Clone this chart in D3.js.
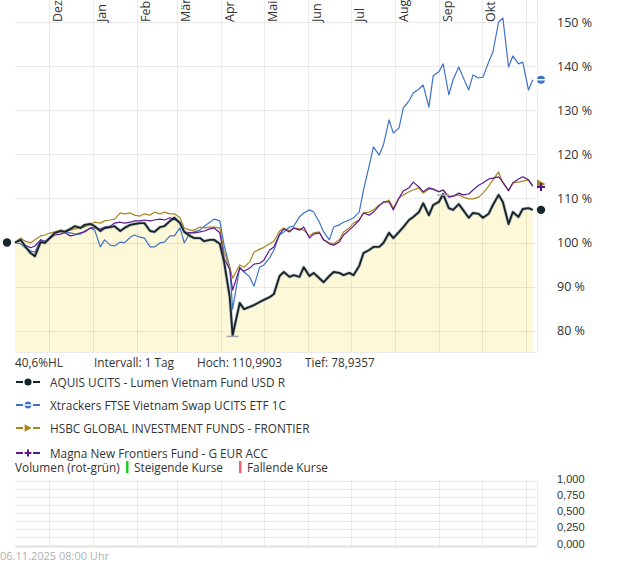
<!DOCTYPE html>
<html>
  <head>
    <meta charset="utf-8">
    <title></title>
    <style>
      body { margin: 0; background: #fff; }
      text { font-family: "Open Sans", "Noto Sans", sans-serif; fill: #333; }
    </style>
  </head>
  <body>
    <svg id="chart" width="620" height="563"></svg>
    <script src="https://d3js.org/d3.v7.min.js"></script>
    <script>
      dates = ['2024-11-07','2024-11-11','2024-11-14','2024-11-18','2024-11-21','2024-11-25','2024-11-28',
        '2024-12-02','2024-12-05','2024-12-09','2024-12-12','2024-12-16','2024-12-19','2024-12-23','2024-12-26','2024-12-30',
        '2025-01-02','2025-01-06','2025-01-09','2025-01-13','2025-01-16','2025-01-20','2025-01-23','2025-01-27','2025-01-30',
        '2025-02-03','2025-02-06','2025-02-10','2025-02-13','2025-02-17','2025-02-20','2025-02-24','2025-02-27',
        '2025-03-03','2025-03-06','2025-03-10','2025-03-13','2025-03-17','2025-03-20','2025-03-24','2025-03-27','2025-03-31',
        '2025-04-03','2025-04-07','2025-04-09','2025-04-14','2025-04-17','2025-04-21','2025-04-24','2025-04-28',
        '2025-05-01','2025-05-05','2025-05-08','2025-05-12','2025-05-15','2025-05-19','2025-05-22','2025-05-26','2025-05-29',
        '2025-06-02','2025-06-05','2025-06-09','2025-06-12','2025-06-16','2025-06-19','2025-06-23','2025-06-26','2025-06-30',
        '2025-07-03','2025-07-07','2025-07-10','2025-07-14','2025-07-17','2025-07-21','2025-07-24','2025-07-28','2025-07-31',
        '2025-08-04','2025-08-07','2025-08-11','2025-08-14','2025-08-18','2025-08-21','2025-08-25','2025-08-28',
        '2025-09-01','2025-09-04','2025-09-08','2025-09-11','2025-09-15','2025-09-18','2025-09-22','2025-09-25','2025-09-29',
        '2025-10-02','2025-10-06','2025-10-09','2025-10-13','2025-10-16','2025-10-20','2025-10-23','2025-10-27','2025-10-30',
        '2025-11-03','2025-11-06']

      aquis = [100.0,100.6,99.2,97.6,96.9,100.1,99.9,101.2,102.2,102.6,
        102.4,103.1,103.7,103.3,104.0,104.2,103.7,102.6,103.3,103.5,
        103.7,102.6,103.3,104.0,104.2,104.4,104.4,102.6,102.4,103.5,
        103.7,104.9,105.6,104.4,102.4,101.5,101.0,101.0,100.3,100.6,
        100.6,99.7,95.6,87.6,78.9357,86.3,84.9,85.4,85.8,86.5,
        87.0,87.6,88.3,92.4,93.3,92.2,92.6,92.2,94.4,92.4,
        93.1,91.9,91.0,92.4,93.3,93.1,92.6,93.1,92.6,94.7,
        97.6,98.3,99.0,99.0,99.9,102.2,101.0,102.4,103.5,105.1,
        105.8,106.9,108.9,106.2,108.5,109.2,110.9903,107.8,107.4,108.7,
        107.4,105.6,106.7,106.5,105.6,106.5,108.5,110.8,109.2,104.2,
        106.9,105.8,107.6,107.8,107.4]

      xtrackers = [100.0,99.7,98.8,98.1,97.8,100.6,100.3,101.2,102.2,102.8,
        102.4,102.2,101.9,101.9,102.6,103.3,102.8,99.0,100.6,99.4,
        99.2,100.1,99.9,101.2,101.7,101.2,101.0,99.0,99.0,99.9,
        100.1,101.5,101.5,103.3,99.9,102.2,102.4,102.8,103.7,104.6,
        105.3,104.9,99.4,94.4,84.9,94.4,93.3,92.2,90.1,94.4,
        94.9,96.5,98.3,101.7,102.4,103.5,103.7,105.8,106.7,107.4,
        106.9,104.6,102.4,100.6,103.5,104.0,104.6,105.1,105.6,106.9,
        111.9,117.4,121.7,119.8,122.1,127.8,124.8,126.0,130.5,132.1,
        133.9,134.8,135.7,130.7,137.8,138.7,140.5,133.5,136.9,139.8,
        137.5,134.6,138.0,137.3,137.5,140.9,143.2,150.0,150.9,139.8,
        142.3,140.5,140.9,134.6,136.9]

      hsbc = [100.0,101.0,100.3,99.9,100.6,101.5,101.7,102.2,102.4,102.8,
        102.6,102.8,103.1,103.3,103.5,104.2,104.6,104.4,104.9,105.1,
        105.3,106.7,106.5,106.7,106.2,106.0,106.5,106.2,106.9,106.5,
        106.9,106.5,106.5,105.6,103.3,102.8,102.8,103.5,103.3,103.5,
        103.5,103.3,97.8,94.4,91.9,94.9,94.4,95.6,97.8,98.5,
        98.9,99.7,100.3,102.6,103.3,102.6,103.3,103.1,102.8,101.5,
        102.2,102.4,100.6,99.9,99.7,100.6,102.4,103.3,104.4,105.1,
        106.7,106.9,107.4,108.5,109.0,109.6,107.8,110.1,110.8,111.5,
        111.9,112.4,111.2,112.1,112.1,111.5,111.9,110.5,110.5,110.8,
        110.3,109.9,109.9,110.3,111.2,112.8,114.2,116.0,113.5,111.9,
        113.5,113.7,113.9,114.2,112.8]

      magna = [100.0,100.6,99.4,98.8,99.2,100.6,100.1,101.0,101.7,101.9,
        102.2,101.5,101.7,102.2,102.4,103.3,103.3,103.1,103.5,103.7,
        104.4,104.6,104.4,104.6,104.9,104.9,105.1,104.9,105.1,105.3,
        105.1,105.6,105.3,104.6,102.4,102.2,102.2,102.4,102.6,103.1,
        103.3,102.2,96.5,93.8,89.2,94.2,93.5,94.2,95.1,95.3,
        96.0,98.3,99.0,101.9,103.1,102.4,103.3,102.8,103.5,101.0,
        101.9,102.2,100.6,99.7,99.4,100.1,101.7,102.8,103.7,105.1,
        106.7,106.2,106.9,108.3,109.2,109.2,107.4,110.1,111.7,112.4,
        113.7,112.6,111.5,112.4,112.1,111.5,111.9,110.3,110.5,111.2,
        110.8,111.0,111.9,113.0,113.5,114.4,114.6,114.9,113.7,111.7,
        113.5,114.4,114.9,114.2,112.8]

      seriesNames = ['AQUIS UCITS - Lumen Vietnam Fund USD R',
        'Xtrackers FTSE Vietnam Swap UCITS ETF 1C',
        'HSBC GLOBAL INVESTMENT FUNDS - FRONTIER',
        'Magna New Frontiers Fund - G EUR ACC']
      monthLabels = ['Dez','Jan','Feb','Mär','Apr','Mai','Jun','Jul','Aug','Sep','Okt']
      yTicks = [80, 90, 100, 110, 120, 130, 140, 150]
      volTicks = [0, 0.25, 0.5, 0.75, 1]
      stamp = '06.11.2025 08:00 Uhr'

      parse = d3.timeParse('%Y-%m-%d')
      days = dates.map(parse)

      left = 15
      right = 537
      top = 23
      bottom = 352
      fs = 11.8

      xScale = d3.scaleTime()
        .domain([ new Date(2024, 10, 7), new Date(2025, 10, 9) ])
        .range([ left, right ])
      yScale = d3.scaleLinear()
        .domain([ 80, 150 ])
        .range([ 330.7, 22 ])
      vScale = d3.scaleLinear()
        .domain([ 0, 1 ])
        .range([ 545.5, 480.5 ])

      const svg = d3.select('#chart')
      const grid = 'rgba(0,0,0,0.075)'

      // area under the AQUIS line
      const area = d3.area()
        .x((d, i) => xScale(days[i]))
        .y0(bottom)
        .y1(d => yScale(d))
      svg.append('path')
        .datum(aquis)
        .attr('d', area)
        .attr('fill', '#fdf8d8')

      // grid
      const months = d3.timeMonth.range(new Date(2024, 11, 1), new Date(2025, 10, 2))
      svg.append('g').selectAll('line')
        .data(months)
        .join('line')
          .attr('x1', d => Math.round(xScale(d)) + 0.5)
          .attr('x2', d => Math.round(xScale(d)) + 0.5)
          .attr('y1', top)
          .attr('y2', bottom)
          .attr('stroke', grid)
      svg.append('g').selectAll('line')
        .data(yTicks)
        .join('line')
          .attr('x1', left)
          .attr('x2', right)
          .attr('y1', d => Math.round(yScale(d)) + 0.5)
          .attr('y2', d => Math.round(yScale(d)) + 0.5)
          .attr('stroke', grid)
      svg.append('line')
        .attr('x1', right + 0.5).attr('x2', right + 0.5)
        .attr('y1', top).attr('y2', bottom)
        .attr('stroke', grid)
      svg.append('line')
        .attr('x1', left).attr('x2', right)
        .attr('y1', bottom + 0.5).attr('y2', bottom + 0.5)
        .attr('stroke', grid)

      // month labels, rotated
      svg.append('g').selectAll('text')
        .data(monthLabels)
        .join('text')
          .attr('transform', (d, i) => `translate(${ xScale(months[i]) + 13 },22) rotate(-90)`)
          .attr('font-size', 12.5)
          .text(d => d)

      // y axis labels
      svg.append('g').selectAll('text')
        .data(yTicks)
        .join('text')
          .attr('x', 557)
          .attr('y', d => yScale(d) + 4.5)
          .attr('font-size', 12.5)
          .text(d => d + ' %')

      // lines
      const line = d3.line()
        .x((d, i) => xScale(days[i]))
        .y(d => yScale(d))
      const styles = [
        { data: xtrackers, color: '#3d72c8', width: 1.2 },
        { data: hsbc, color: '#a8861c', width: 1.2 },
        { data: magna, color: '#5a1890', width: 1.2 },
      ]
      styles.forEach(s => {
        svg.append('path')
          .datum(s.data)
          .attr('d', line)
          .attr('fill', 'none')
          .attr('stroke', s.color)
          .attr('stroke-width', s.width)
          .attr('stroke-linejoin', 'round')
      })
      svg.append('path')
        .datum(aquis)
        .attr('d', line)
        .attr('fill', 'none')
        .attr('stroke', '#8a9599')
        .attr('stroke-opacity', 0.5)
        .attr('stroke-width', 3.4)
        .attr('stroke-linejoin', 'round')
      svg.append('path')
        .datum(aquis)
        .attr('d', line)
        .attr('fill', 'none')
        .attr('stroke', '#17262d')
        .attr('stroke-width', 1.9)
        .attr('stroke-linejoin', 'round')

      // high / low ticks
      const hi = d3.max(aquis), lo = d3.min(aquis)
      const hiI = aquis.indexOf(hi), loI = aquis.indexOf(lo)
      ;[[hiI, hi], [loI, lo]].forEach(([i, v]) => {
        svg.append('line')
          .attr('x1', xScale(days[i]) - 6).attr('x2', xScale(days[i]) + 6)
          .attr('y1', yScale(v) + 1).attr('y2', yScale(v) + 1)
          .attr('stroke', '#a8a8b0').attr('stroke-width', 1.5)
      })

      // markers
      function marker(g, kind, color, x, y, s) {
        s = s || 1
        if (kind === 'dot') {
          g.append('circle').attr('cx', x).attr('cy', y).attr('r', 4.2 * s).attr('fill', color)
        } else if (kind === 'ring') {
          g.append('circle').attr('cx', x).attr('cy', y).attr('r', 4 * s).attr('fill', color)
          g.append('line').attr('x1', x - 4 * s).attr('x2', x + 4 * s).attr('y1', y).attr('y2', y)
            .attr('stroke', '#fff').attr('stroke-width', 1.5)
        } else if (kind === 'tri') {
          g.append('path').attr('d', `M${ x - 4 * s },${ y - 4.5 * s }L${ x + 4.5 * s },${ y }L${ x - 4 * s },${ y + 4.5 * s }Z`)
            .attr('fill', color)
        } else {
          g.append('path').attr('d', `M${ x - 4 * s },${ y }H${ x + 4 * s }M${ x },${ y - 4 * s }V${ y + 4 * s }`)
            .attr('stroke', color).attr('stroke-width', 2)
        }
      }
      const last = days.length - 1
      const mk = svg.append('g')
      marker(mk, 'dot', '#17262d', 7, yScale(aquis[0]))
      marker(mk, 'ring', '#3d72c8', 541, yScale(xtrackers[last]))
      marker(mk, 'tri', '#a8861c', 541, yScale(hsbc[last]) - 2)
      marker(mk, 'plus', '#5a1890', 541, yScale(magna[last]) + 1)
      marker(mk, 'dot', '#17262d', 541, yScale(aquis[last]))

      // info row
      const fmt = v => d3.format('.4f')(v).replace('.', ',')
      const hl = d3.format('.1f')((hi - lo) / lo * 100).replace('.', ',')
      const info = svg.append('g').attr('font-size', fs)
      info.append('text').attr('x', 15).attr('y', 367).text(hl + '%HL')
      info.append('text').attr('x', 94).attr('y', 367).text('Intervall: 1 Tag')
      info.append('text').attr('x', 197).attr('y', 367).text('Hoch: ' + fmt(hi))
      info.append('text').attr('x', 305).attr('y', 367).text('Tief: ' + fmt(lo))

      // legend
      const kinds = ['dot', 'ring', 'tri', 'plus']
      const colors = ['#17262d', '#3d72c8', '#a8861c', '#5a1890']
      const rowY = [382, 405, 428, 453]
      const lg = svg.append('g')
      seriesNames.forEach((name, i) => {
        lg.append('line').attr('x1', 16).attr('x2', 23).attr('y1', rowY[i]).attr('y2', rowY[i])
          .attr('stroke', colors[i]).attr('stroke-width', 2)
        lg.append('line').attr('x1', 33).attr('x2', 40).attr('y1', rowY[i]).attr('y2', rowY[i])
          .attr('stroke', colors[i]).attr('stroke-width', 2)
        marker(lg, kinds[i], colors[i], 28, rowY[i], 0.85)
        lg.append('text').attr('x', 50).attr('y', rowY[i] + 4.5).attr('font-size', fs).text(name)
      })
      lg.append('text').attr('x', 15).attr('y', 472).attr('font-size', fs).text('Volumen (rot-grün)')
      lg.append('rect').attr('x', 126).attr('y', 461).attr('width', 2.5).attr('height', 12).attr('fill', '#22cc22')
      lg.append('text').attr('x', 134).attr('y', 472).attr('font-size', fs).text('Steigende Kurse')
      lg.append('rect').attr('x', 239).attr('y', 461).attr('width', 2.5).attr('height', 12).attr('fill', '#f06070')
      lg.append('text').attr('x', 247).attr('y', 472).attr('font-size', fs).text('Fallende Kurse')

      // volume panel
      const vg = svg.append('g')
      vg.selectAll('line.h')
        .data(d3.range(0, 1.001, 0.125))
        .join('line')
          .attr('x1', left).attr('x2', right)
          .attr('y1', d => Math.round(vScale(d)) + 0.5)
          .attr('y2', d => Math.round(vScale(d)) + 0.5)
          .attr('stroke', d => d === 0 ? 'rgba(0,0,0,0.12)' : grid)
          .attr('stroke-width', d => d === 0 ? 2 : 1)
      vg.selectAll('line.v')
        .data(months)
        .join('line')
          .attr('class', 'v')
          .attr('x1', d => Math.round(xScale(d)) + 0.5)
          .attr('x2', d => Math.round(xScale(d)) + 0.5)
          .attr('y1', vScale(1))
          .attr('y2', vScale(0))
          .attr('stroke', grid)
      vg.append('line')
        .attr('x1', right + 0.5).attr('x2', right + 0.5)
        .attr('y1', vScale(1)).attr('y2', vScale(0))
        .attr('stroke', grid)
      vg.selectAll('text')
        .data(volTicks)
        .join('text')
          .attr('x', 557)
          .attr('y', d => vScale(d) + 2)
          .attr('font-size', 11)
          .style('font-family', '"Liberation Sans", Arial, sans-serif')
          .text(d => d3.format('.3f')(d).replace('.', ','))

      svg.append('text')
        .attr('x', 0).attr('y', 560)
        .attr('font-size', 11)
        .style('fill', '#b0b0b0')
        .text(stamp)
    </script>
  </body>
</html>
